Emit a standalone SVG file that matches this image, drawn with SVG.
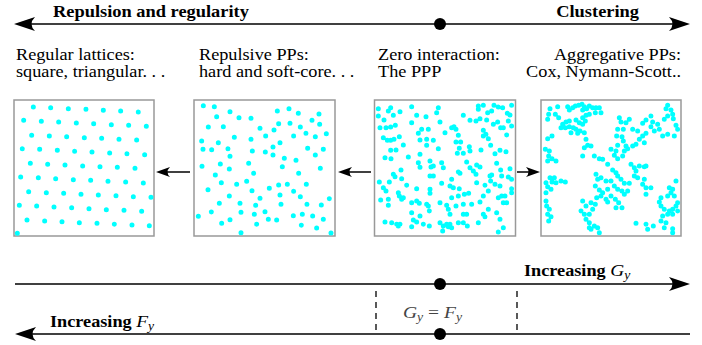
<svg xmlns="http://www.w3.org/2000/svg" width="702" height="345" viewBox="0 0 702 345">
<style>
.t{font-family:'Liberation Serif','Times New Roman',serif;font-size:16px;fill:#000}
.b{font-weight:bold}
.m{font-style:italic}
.ax{stroke:#000;stroke-width:1.5;fill:none}
.box{fill:#fff;stroke:#999;stroke-width:1.5}
.dots{fill:none;stroke:#00ffff;stroke-width:15;stroke-linecap:round}
.dash{stroke:#000;stroke-width:1.3;stroke-dasharray:6,5;fill:none}
</style>
<defs>
<path id="ah" d="M0,0 L-21,-7 Q-14,0 -21,7 Z" fill="#000"/>
<path id="sh" d="M0,0 L-14,-5 Q-9,0 -14,5 Z" fill="#000"/>
</defs>

<g id="top-axis">
<line class="ax" x1="20" y1="24" x2="684" y2="24"/>
<use href="#ah" transform="translate(14,24) rotate(180)"/>
<use href="#ah" transform="translate(690,24)"/>
<circle cx="440" cy="24" r="6" fill="#000"/>
<text class="t b" transform="translate(53,17) scale(1.15,1)">Repulsion and regularity</text>
<text class="t b" text-anchor="end" transform="translate(639,17) scale(1.15,1)">Clustering</text>
</g>

<g id="node-lattice">
<text class="t" transform="translate(16,60) scale(1.14,1)">Regular lattices:</text>
<text class="t" transform="translate(16,77) scale(1.14,1)">square, triangular. . .</text>
<rect class="box" x="14" y="100" width="140" height="136"/>
<path class="dots" transform="translate(10,96) scale(0.3333)" d="M70 33h0M122 35h0M175 38h0M228 40h0M280 43h0M332 45h0M385 48h0M41 73h0M94 76h0M146 78h0M199 81h0M251 83h0M304 86h0M356 88h0M409 91h0M65 118h0M118 120h0M170 122h0M223 125h0M275 127h0M327 130h0M380 132h0M37 158h0M89 160h0M142 163h0M194 166h0M246 168h0M299 171h0M351 173h0M404 176h0M61 202h0M113 205h0M165 207h0M218 210h0M270 212h0M322 214h0M375 217h0M32 243h0M85 245h0M137 248h0M190 251h0M242 253h0M294 256h0M347 258h0M400 261h0M56 287h0M109 290h0M161 292h0M213 295h0M265 297h0M318 299h0M370 302h0M423 304h0M28 328h0M80 330h0M132 333h0M185 335h0M237 338h0M289 341h0M342 343h0M395 346h0M51 372h0M104 375h0M156 377h0M208 380h0M261 382h0M313 385h0M366 387h0M418 389h0M22 412h0"/>
</g>

<g id="node-repulsive">
<text class="t" transform="translate(199,60) scale(1.14,1)">Repulsive PPs:</text>
<text class="t" transform="translate(199,77) scale(1.14,1)">hard and soft-core. . .</text>
<rect class="box" x="194" y="100" width="141" height="136"/>
<path class="dots" transform="translate(190,96) scale(0.3333)" d="M40 29h0M73 32h0M120 47h0M80 62h0M147 65h0M183 67h0M262 45h0M297 38h0M325 52h0M387 54h0M366 73h0M389 85h0M55 93h0M100 92h0M210 97h0M227 120h0M252 102h0M266 83h0M300 82h0M331 93h0M348 112h0M376 122h0M409 113h0M311 120h0M35 135h0M85 140h0M133 124h0M183 130h0M270 140h0M249 153h0M39 160h0M65 161h0M114 158h0M187 165h0M226 168h0M249 177h0M283 187h0M318 193h0M353 157h0M376 177h0M400 160h0M120 181h0M36 211h0M91 204h0M118 219h0M176 202h0M191 232h0M277 212h0M326 232h0M391 217h0M76 237h0M94 260h0M140 265h0M170 256h0M54 281h0M186 284h0M238 277h0M266 267h0M292 265h0M311 286h0M349 265h0M270 297h0M331 302h0M418 308h0M210 307h0M118 300h0M88 322h0M150 322h0M197 328h0M273 325h0M351 325h0M394 327h0M25 361h0M64 348h0M153 349h0M193 355h0M225 347h0M235 370h0M260 372h0M310 359h0M337 355h0M368 360h0M400 370h0M95 382h0M120 371h0M200 385h0M334 388h0M380 396h0M423 411h0M153 410h0"/>
</g>

<g id="node-ppp">
<text class="t" transform="translate(378,60) scale(1.14,1)">Zero interaction:</text>
<text class="t" transform="translate(378,77) scale(1.14,1)">The PPP</text>
<rect class="box" x="374.5" y="100" width="141" height="136"/>
<path class="dots" transform="translate(370,96) scale(0.3333)" d="M25 38h0M25 60h0M42 72h0M55 45h0M62 35h0M70 58h0M90 47h0M125 32h0M30 95h0M48 95h0M62 93h0M76 88h0M40 125h0M52 133h0M62 133h0M72 130h0M88 122h0M100 147h0M62 163h0M78 162h0M45 185h0M63 188h0M115 183h0M140 58h0M168 62h0M125 80h0M155 100h0M175 100h0M145 112h0M150 132h0M170 130h0M190 133h0M170 148h0M205 35h0M200 50h0M210 78h0M225 110h0M245 95h0M252 92h0M258 100h0M265 118h0M258 138h0M272 138h0M268 157h0M262 172h0M280 172h0M205 158h0M150 175h0M145 200h0M150 214h0M180 195h0M183 213h0M190 210h0M215 200h0M220 215h0M180 240h0M190 240h0M245 250h0M265 228h0M270 232h0M280 58h0M300 73h0M298 152h0M300 165h0M290 198h0M300 215h0M310 225h0M320 207h0M330 213h0M333 162h0M318 235h0M362 148h0M375 173h0M390 163h0M408 167h0M380 202h0M392 222h0M420 218h0M395 240h0M415 243h0M425 250h0M365 237h0M362 255h0M375 265h0M345 268h0M320 260h0M325 30h0M325 40h0M340 28h0M353 50h0M365 45h0M372 28h0M385 33h0M398 35h0M412 52h0M420 57h0M425 28h0M318 75h0M330 68h0M350 72h0M370 85h0M383 78h0M392 95h0M400 95h0M415 75h0M425 90h0M410 117h0M340 103h0M348 115h0M355 128h0M340 120h0M28 258h0M40 275h0M48 285h0M70 235h0M75 242h0M58 258h0M93 222h0M95 248h0M110 268h0M140 278h0M180 280h0M180 292h0M215 262h0M240 270h0M250 275h0M268 278h0M283 295h0M296 292h0M245 305h0M32 312h0M55 310h0M55 328h0M85 290h0M88 300h0M95 310h0M100 305h0M125 320h0M140 315h0M148 322h0M170 325h0M175 330h0M178 345h0M210 320h0M230 328h0M235 340h0M240 355h0M258 330h0M280 325h0M305 325h0M330 318h0M340 300h0M355 285h0M360 240h0M390 270h0M395 300h0M405 300h0M385 305h0M400 320h0M410 320h0M425 278h0M425 290h0M355 340h0M340 355h0M380 350h0M390 370h0M400 395h0M385 408h0M125 350h0M150 360h0M130 372h0M140 378h0M160 385h0M178 390h0M90 385h0M80 385h0M85 390h0M45 378h0M65 380h0M210 380h0M220 390h0M230 385h0M235 392h0M245 395h0M218 405h0M265 380h0M280 380h0M292 390h0M325 380h0M345 362h0M265 300h0M280 355h0M290 355h0M240 385h0M125 392h0"/>
</g>

<g id="node-aggregative">
<text class="t" text-anchor="end" transform="translate(681,60) scale(1.14,1)">Aggregative PPs:</text>
<text class="t" text-anchor="end" transform="translate(681,77) scale(1.14,1)">Cox, Nymann-Scott..</text>
<rect class="box" x="541" y="100" width="140" height="136"/>
<path class="dots" transform="translate(536,96) scale(0.3333)" d="M42 38h0M65 32h0M38 55h0M35 70h0M58 55h0M68 65h0M95 32h0M100 42h0M110 35h0M118 30h0M128 28h0M138 25h0M145 32h0M140 42h0M152 38h0M160 30h0M170 35h0M180 35h0M190 35h0M178 50h0M195 50h0M160 55h0M150 58h0M140 65h0M148 75h0M140 85h0M130 80h0M120 72h0M100 75h0M90 78h0M80 85h0M75 95h0M88 95h0M100 92h0M112 95h0M120 100h0M105 110h0M125 112h0M132 105h0M145 110h0M150 130h0M155 148h0M165 150h0M145 155h0M140 180h0M48 120h0M35 128h0M28 160h0M40 165h0M38 180h0M48 188h0M35 195h0M60 195h0M250 65h0M255 78h0M270 80h0M280 70h0M245 100h0M262 100h0M242 120h0M258 122h0M262 135h0M245 148h0M270 150h0M275 158h0M290 100h0M305 105h0M320 82h0M330 72h0M345 60h0M350 78h0M345 92h0M355 105h0M330 112h0M320 120h0M310 130h0M325 140h0M300 145h0M290 150h0M365 85h0M370 100h0M385 70h0M395 60h0M390 38h0M395 28h0M405 42h0M410 55h0M412 68h0M420 88h0M425 100h0M415 120h0M380 120h0M395 115h0M225 160h0M240 165h0M235 178h0M245 188h0M260 180h0M265 165h0M175 180h0M190 188h0M200 190h0M215 205h0M230 222h0M240 230h0M245 240h0M255 250h0M265 262h0M280 262h0M275 285h0M180 235h0M185 250h0M195 245h0M210 255h0M225 255h0M235 270h0M245 280h0M258 285h0M265 295h0M215 280h0M200 290h0M190 282h0M178 270h0M182 305h0M195 300h0M210 310h0M225 300h0M238 310h0M248 320h0M240 335h0M258 335h0M215 318h0M178 325h0M165 320h0M170 340h0M160 355h0M145 355h0M140 315h0M150 330h0M135 345h0M285 205h0M295 215h0M300 225h0M295 240h0M305 245h0M310 210h0M325 212h0M330 210h0M320 265h0M330 275h0M330 295h0M345 275h0M325 250h0M30 260h0M42 245h0M55 245h0M48 258h0M60 260h0M75 255h0M88 258h0M30 290h0M45 280h0M35 272h0M30 315h0M32 330h0M40 340h0M35 355h0M45 362h0M38 375h0M150 370h0M160 380h0M175 390h0M185 395h0M165 400h0M190 410h0M160 395h0M300 382h0M330 385h0M335 400h0M352 390h0M385 395h0M390 380h0M380 360h0M375 375h0M395 355h0M400 345h0M410 340h0M385 340h0M375 330h0M370 318h0M375 305h0M395 300h0M405 290h0M400 275h0M410 280h0M420 255h0M415 300h0M425 320h0M420 330h0M410 355h0M425 345h0M410 398h0M410 410h0"/>
</g>

<g id="connectors">
<line class="ax" x1="190" y1="172" x2="162" y2="172"/>
<use href="#sh" transform="translate(156,172) rotate(180)"/>
<line class="ax" x1="371" y1="172" x2="344" y2="172"/>
<use href="#sh" transform="translate(338,172) rotate(180)"/>
<line class="ax" x1="517" y1="172" x2="534" y2="172"/>
<use href="#sh" transform="translate(540,172)"/>
</g>

<g id="g-axis">
<line class="ax" x1="15" y1="284" x2="684" y2="284"/>
<use href="#ah" transform="translate(690,284)"/>
<circle cx="440" cy="284" r="6" fill="#000"/>
<text class="t" transform="translate(524,276) scale(1.14,1)"><tspan class="b">Increasing</tspan> <tspan class="m" font-size="17">G</tspan><tspan class="m" font-size="12" dy="3">y</tspan></text>
</g>

<g id="f-axis">
<line class="ax" x1="21" y1="334" x2="690" y2="334"/>
<use href="#ah" transform="translate(15,334) rotate(180)"/>
<circle cx="440" cy="334" r="6" fill="#000"/>
<text class="t" transform="translate(50,327) scale(1.14,1)"><tspan class="b">Increasing</tspan> <tspan class="m" font-size="17">F</tspan><tspan class="m" font-size="12" dy="3">y</tspan></text>
</g>

<g id="equal-region">
<line class="dash" x1="376" y1="291" x2="376" y2="331"/>
<line class="dash" x1="517" y1="291" x2="517" y2="331"/>
<text class="t" style="fill:#444" transform="translate(403,318) scale(1.15,1)"><tspan class="m" font-size="17">G</tspan><tspan class="m" font-size="12" dy="3">y</tspan><tspan dy="-3" font-size="17"> = </tspan><tspan class="m" font-size="17">F</tspan><tspan class="m" font-size="12" dy="3">y</tspan></text>
</g>
</svg>
